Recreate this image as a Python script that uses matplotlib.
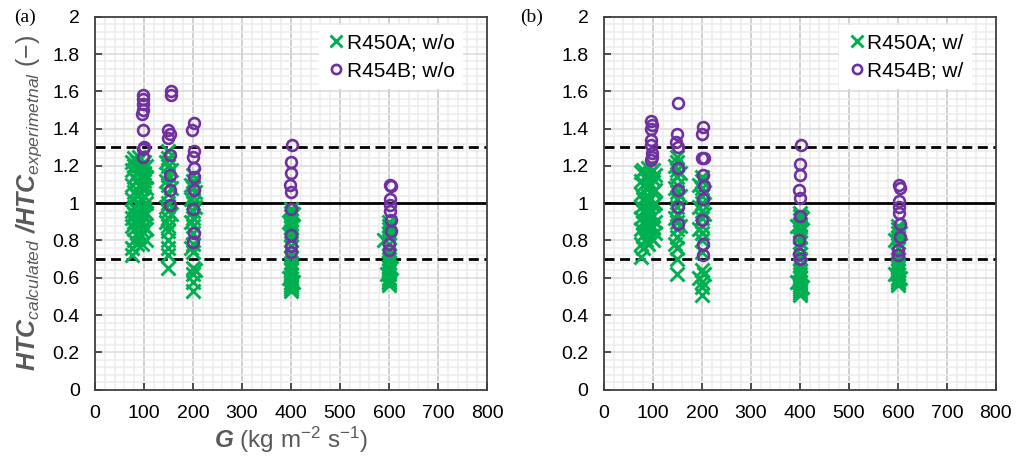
import numpy as np
import matplotlib.pyplot as plt
from matplotlib.ticker import MultipleLocator, FuncFormatter

plt.rcParams["font.family"] = "Liberation Sans"
plt.rcParams["mathtext.fontset"] = "custom"
plt.rcParams["mathtext.rm"] = "Liberation Sans"
plt.rcParams["mathtext.it"] = "Liberation Sans:italic"
plt.rcParams["mathtext.bf"] = "Liberation Sans:italic:bold"

GREEN = "#00b050"
PURPLE = "#7030a0"
LABEL_GRAY = "#595959"

# ---- panel (a): w/o ----
A_R450A_G = [
    75, 75, 75, 75, 75, 75, 75, 75, 75,
    80, 80, 80, 80, 80, 80, 80, 80, 80,
    85, 85, 85, 85, 85, 85, 85, 85,
    90, 90, 90, 90, 90, 90, 90,
    95, 95, 95, 95, 95, 95, 95, 95,
    100, 100, 100, 100, 100, 100, 100,
    105, 105, 105, 105, 105, 105, 105,
    145, 145, 145, 145,
    150, 150, 150, 150, 150, 150, 150, 150, 150, 150, 150, 150, 150, 150, 150,
    155, 155, 155,
    195, 195, 195, 195,
    200, 200, 200, 200, 200, 200, 200, 200, 200, 200, 200, 200, 200, 200, 200,
    205, 205, 205,
    395, 395,
    400, 400, 400, 400, 400, 400, 400, 400, 400, 400, 400, 400,
    400, 400, 400, 400, 400, 400, 400, 400, 400, 400, 400,
    405, 405,
    590, 595,
    600, 600, 600, 600, 600, 600, 600, 600, 600, 600, 600, 600, 600, 600, 600, 600, 600, 600,
    605,
]
A_R450A_HTC = [
    1.22, 1.18, 1.10, 1.02, 0.96, 0.92, 0.88, 0.76, 0.72,
    1.24, 1.20, 1.14, 1.06, 0.98, 0.94, 0.90, 0.86, 0.80,
    1.22, 1.16, 1.12, 1.04, 0.96, 0.92, 0.84, 0.78,
    1.25, 1.18, 1.10, 1.00, 0.94, 0.88, 0.82,
    1.20, 1.14, 1.08, 1.02, 0.97, 0.90, 0.85, 0.78,
    1.22, 1.16, 1.12, 1.04, 0.96, 0.93, 0.88,
    1.20, 1.14, 1.08, 1.00, 0.95, 0.86, 0.80,
    1.22, 1.12, 0.98, 0.90,
    1.28, 1.24, 1.20, 1.15, 1.10, 1.05, 1.00, 0.96, 0.92, 0.88, 0.85, 0.80, 0.76, 0.72, 0.65,
    1.18, 1.08, 0.94,
    1.10, 1.02, 0.90, 0.76,
    1.15, 1.12, 1.08, 1.04, 1.00, 0.96, 0.92, 0.88, 0.84, 0.78, 0.74, 0.65, 0.62, 0.58, 0.53,
    1.06, 0.98, 0.64,
    0.90, 0.60,
    0.97, 0.95, 0.93, 0.91, 0.89, 0.87, 0.85, 0.83, 0.80, 0.77, 0.74, 0.71,
    0.68, 0.66, 0.64, 0.62, 0.60, 0.58, 0.57, 0.56, 0.55, 0.54, 0.53,
    0.94, 0.58,
    0.80, 0.62,
    0.90, 0.88, 0.86, 0.84, 0.82, 0.78, 0.75, 0.72, 0.70, 0.68, 0.66, 0.64, 0.62, 0.60, 0.59, 0.58, 0.57, 0.56,
    0.65,
]
A_R454B_G = [
    98, 97, 98, 97, 96, 97, 99, 97, 97,
    155, 155, 150, 153, 148, 153, 153, 153, 154,
    202, 198, 203, 200, 202, 203, 202, 199, 202, 201,
    403, 400, 400, 398, 399, 399, 399, 399, 400,
    602, 604, 603, 603, 603, 604, 604, 601, 600,
]
A_R454B_HTC = [
    1.58, 1.56, 1.53, 1.50, 1.48, 1.39, 1.30, 1.29, 1.25,
    1.60, 1.58, 1.39, 1.37, 1.35, 1.26, 1.15, 1.07, 0.99,
    1.43, 1.39, 1.28, 1.25, 1.19, 1.14, 1.07, 0.97, 0.84, 0.79,
    1.31, 1.22, 1.16, 1.10, 1.06, 0.97, 0.83, 0.77, 0.74,
    1.10, 1.09, 1.02, 0.99, 0.96, 0.91, 0.85, 0.78, 0.75,
]

# ---- panel (b): w/ ----
B_R450A_G = [
    75, 75, 75, 75, 75, 75, 75, 75,
    80, 80, 80, 80, 80, 80, 80,
    85, 85, 85, 85, 85, 85,
    90, 90, 90, 90, 90, 90, 90,
    95, 95, 95, 95, 95, 95,
    100, 100, 100, 100, 100, 100, 100,
    105, 105, 105, 105, 105,
    145, 145, 145, 145,
    150, 150, 150, 150, 150, 150, 150, 150, 150, 150, 150, 150, 150, 150, 150,
    155, 155, 155,
    195, 195, 195, 195,
    200, 200, 200, 200, 200, 200, 200, 200, 200, 200, 200, 200, 200, 200, 200,
    205, 205, 205,
    395, 395,
    400, 400, 400, 400, 400, 400, 400, 400, 400, 400, 400,
    400, 400, 400, 400, 400, 400, 400, 400, 400, 400, 400,
    405, 405,
    595, 595,
    600, 600, 600, 600, 600, 600, 600, 600, 600, 600, 600, 600, 600, 600, 600, 600, 600,
    605, 605,
]
B_R450A_HTC = [
    1.17, 1.12, 1.05, 0.98, 0.92, 0.86, 0.78, 0.71,
    1.18, 1.10, 1.02, 0.96, 0.90, 0.83, 0.76,
    1.15, 1.08, 1.00, 0.94, 0.88, 0.80,
    1.19, 1.12, 1.04, 0.97, 0.92, 0.85, 0.78,
    1.16, 1.09, 1.02, 0.95, 0.89, 0.82,
    1.18, 1.13, 1.06, 0.99, 0.93, 0.87, 0.80,
    1.15, 1.07, 1.00, 0.90, 0.84,
    1.20, 1.08, 0.92, 0.78,
    1.25, 1.22, 1.18, 1.14, 1.10, 1.06, 1.02, 0.98, 0.94, 0.90, 0.86, 0.82, 0.76, 0.70, 0.62,
    1.16, 1.04, 0.88,
    1.10, 0.98, 0.86, 0.60,
    1.14, 1.12, 1.08, 1.04, 1.00, 0.96, 0.92, 0.88, 0.84, 0.80, 0.74, 0.64, 0.58, 0.55, 0.51,
    1.06, 0.94, 0.62,
    0.88, 0.58,
    0.95, 0.93, 0.91, 0.89, 0.87, 0.85, 0.82, 0.79, 0.76, 0.73, 0.70,
    0.67, 0.64, 0.62, 0.60, 0.58, 0.56, 0.55, 0.54, 0.53, 0.52, 0.51,
    0.92, 0.55,
    0.80, 0.62,
    0.88, 0.86, 0.84, 0.82, 0.79, 0.76, 0.73, 0.70, 0.68, 0.66, 0.64, 0.62, 0.60, 0.59, 0.58, 0.57, 0.56,
    0.84, 0.60,
]
B_R454B_G = [
    97, 98, 97, 96, 97, 98, 99, 97,
    151, 149, 148, 152, 152, 152, 152, 151,
    203, 200, 200, 205, 203, 205, 202, 200, 203, 203,
    403, 400, 401, 399, 400, 400, 399, 399, 400,
    602, 604, 603, 603, 603, 604, 604, 601, 600,
]
B_R454B_HTC = [
    1.44, 1.42, 1.40, 1.34, 1.31, 1.27, 1.25, 1.23,
    1.54, 1.37, 1.33, 1.30, 1.19, 1.07, 0.98, 0.89,
    1.41, 1.37, 1.24, 1.24, 1.15, 1.09, 1.02, 0.91, 0.78, 0.72,
    1.31, 1.21, 1.15, 1.07, 1.03, 0.93, 0.80, 0.73, 0.70,
    1.10, 1.08, 1.01, 0.98, 0.95, 0.89, 0.82, 0.75, 0.72,
]

REF_LINE = 1.0
BAND = (0.7, 1.3)


def draw_panel(ax, g_a, htc_a, g_b, htc_b, tag):
    ax.set_xlim(0, 800)
    ax.set_ylim(0, 2)
    ax.xaxis.set_major_locator(MultipleLocator(100))
    ax.xaxis.set_minor_locator(MultipleLocator(20))
    ax.yaxis.set_major_locator(MultipleLocator(0.2))
    ax.yaxis.set_minor_locator(MultipleLocator(0.04))
    ax.yaxis.set_major_formatter(FuncFormatter(lambda v, _: f"{v:g}"))

    ax.grid(which="minor", color="#ececec", lw=1.1)
    ax.xaxis.grid(which="major", color="#c4c4c4", lw=1.1)
    ax.yaxis.grid(which="major", color="#dadada", lw=1.1)
    ax.set_axisbelow(True)

    ax.axhline(REF_LINE, color="black", lw=2, zorder=2)
    for y in BAND:
        ax.axhline(y, color="black", lw=2, dashes=(3.6, 2.0), zorder=2)

    ax.plot(g_a, htc_a, ls="none", marker="x", ms=10.5, mew=2.1, color=GREEN,
            label=f"R450A; {tag}", zorder=3)
    ax.plot(g_b, htc_b, ls="none", marker="o", ms=7.8, mew=1.9, mfc="none",
            color=PURPLE, label=f"R454B; {tag}", zorder=4)

    for s in ax.spines.values():
        s.set_color("#404040")
        s.set_linewidth(1.3)
    ax.tick_params(which="major", direction="in", length=5, width=1.3,
                   color="#404040", labelsize=14, pad=11)
    ax.tick_params(which="minor", length=0)

    leg = ax.legend(loc="upper right", bbox_to_anchor=(0.96, 1.0),
                    fontsize=15, handletextpad=0.05, markerscale=0.85,
                    handlelength=0.9, borderaxespad=0.4, labelspacing=0.45,
                    frameon=True, fancybox=False, framealpha=1,
                    facecolor="white", edgecolor="none")
    leg.set_zorder(5)


def main():
    fig = plt.figure(figsize=(10.27, 4.65), dpi=100)
    ax_a = fig.add_axes([0.0925, 0.162, 0.3817, 0.802])
    ax_b = fig.add_axes([0.588, 0.162, 0.3817, 0.802])

    draw_panel(ax_a, A_R450A_G, A_R450A_HTC, A_R454B_G, A_R454B_HTC, "w/o")
    draw_panel(ax_b, B_R450A_G, B_R450A_HTC, B_R454B_G, B_R454B_HTC, "w/")

    ax_a.set_ylabel(r"$\mathbf{HTC}_{\mathit{calculated}}$ $\mathbf{/HTC}_{\mathit{experimetnal}}$ (−)",
                    fontsize=18, color=LABEL_GRAY, labelpad=6)
    ax_a.set_xlabel(r"$\mathbf{G}$ (kg m$^{-2}$ s$^{-1}$)", fontsize=17.5,
                    color=LABEL_GRAY, labelpad=2)

    fig.text(0.024, 0.963, "(a)", family="Liberation Serif", fontsize=14,
             ha="center", va="center")
    fig.text(0.518, 0.963, "(b)", family="Liberation Serif", fontsize=14,
             ha="center", va="center")

    fig.savefig("out.png", dpi=100)


if __name__ == "__main__":
    main()
